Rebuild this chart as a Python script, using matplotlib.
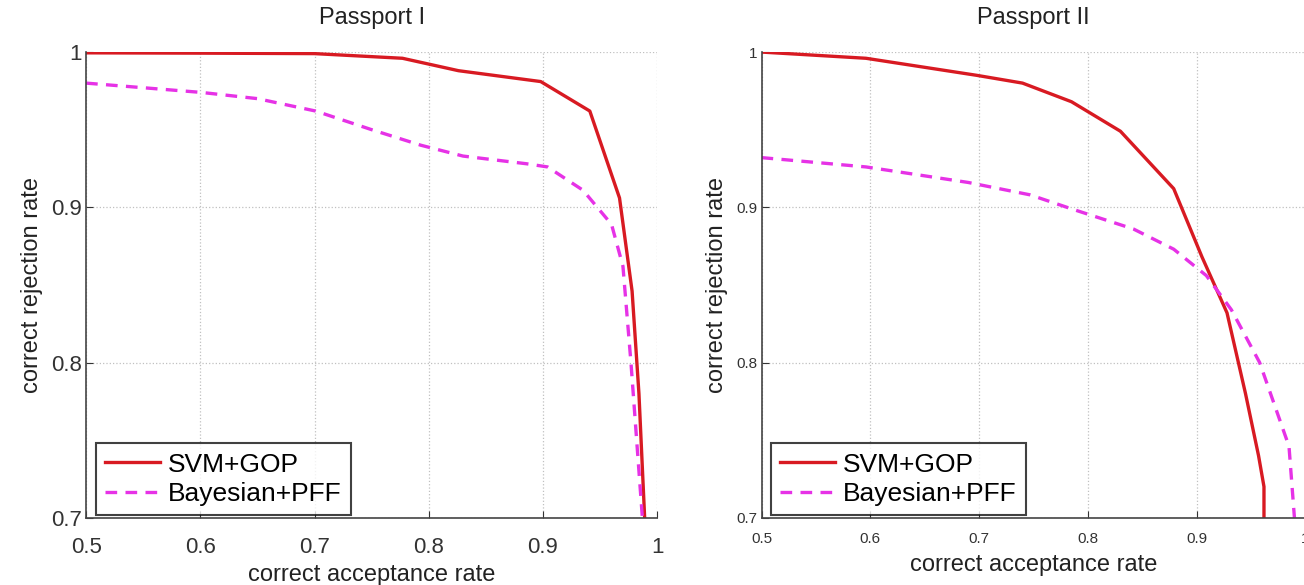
import matplotlib
matplotlib.use('Agg')
import matplotlib.pyplot as plt

plt.rcParams['font.family'] = ['Liberation Sans', 'DejaVu Sans']

# Passport I
car1_svm = [0.5, 0.6, 0.7, 0.777, 0.826, 0.898, 0.941, 0.967, 0.978, 0.984, 0.989]
crr1_svm = [0.9995, 0.9993, 0.999, 0.996, 0.988, 0.981, 0.962, 0.906, 0.846, 0.78, 0.70]
car1_bay = [0.5, 0.601, 0.65, 0.701, 0.75, 0.793, 0.830, 0.886, 0.904, 0.935, 0.96, 0.97, 0.977, 0.982, 0.987]
crr1_bay = [0.980, 0.974, 0.970, 0.962, 0.950, 0.940, 0.933, 0.928, 0.926, 0.911, 0.889, 0.862, 0.80, 0.75, 0.70]

# Passport II
car2_svm = [0.5, 0.596, 0.698, 0.740, 0.785, 0.830, 0.879, 0.905, 0.928, 0.945, 0.957, 0.962, 0.962]
crr2_svm = [1.0, 0.996, 0.985, 0.980, 0.968, 0.949, 0.912, 0.868, 0.832, 0.78, 0.74, 0.72, 0.70]
car2_bay = [0.5, 0.596, 0.69, 0.747, 0.785, 0.842, 0.879, 0.909, 0.932, 0.958, 0.985, 0.99]
crr2_bay = [0.932, 0.926, 0.916, 0.908, 0.899, 0.886, 0.873, 0.856, 0.834, 0.80, 0.746, 0.70]

titles = ['Passport I', 'Passport II']
xticks = [0.5, 0.6, 0.7, 0.8, 0.9, 1.0]
xticklabels = ['0.5', '0.6', '0.7', '0.8', '0.9', '1']
yticks = [0.7, 0.8, 0.9, 1.0]
yticklabels = ['0.7', '0.8', '0.9', '1']

red = '#d81a22'
mag = '#e632e6'

fig = plt.figure(figsize=(13.04, 5.85), dpi=100)
ax1 = fig.add_axes([0.066, 0.115, 0.438, 0.796])
ax2 = fig.add_axes([0.584, 0.115, 0.417, 0.796])

data = [(car1_svm, crr1_svm, car1_bay, crr1_bay), (car2_svm, crr2_svm, car2_bay, crr2_bay)]
tick_fs = [16, 11]
xpad = [14, 10]
xlpad = [4, 6]

for i, ax in enumerate([ax1, ax2]):
    xs, ys, xb, yb = data[i]
    ax.plot(xs, ys, color=red, lw=2.4, label='SVM+GOP')
    ax.plot(xb, yb, color=mag, lw=2.4, dashes=(3.5, 2.5), label='Bayesian+PFF')
    ax.set_xlim(0.5, 1.0)
    ax.set_ylim(0.7, 1.0)
    ax.set_xticks(xticks)
    ax.set_xticklabels(xticklabels)
    ax.set_yticks(yticks)
    ax.set_yticklabels(yticklabels)
    ax.grid(True, linestyle=':', color='#c0c0c0', lw=0.9)
    for s in ['top', 'right']:
        ax.spines[s].set_visible(False)
    for s in ['left', 'bottom']:
        ax.spines[s].set_color('#444444')
        ax.spines[s].set_linewidth(1.2)
    ax.tick_params(direction='in', length=5, labelsize=tick_fs[i], colors='#333333')
    ax.tick_params(axis='x', pad=xpad[i])
    ax.tick_params(axis='y', pad=3)
    ax.set_title(titles[i], fontsize=17, pad=20, color='#222222')
    ax.set_xlabel('correct acceptance rate', fontsize=17, color='#222222', labelpad=xlpad[i])
    ax.set_ylabel('correct rejection rate', fontsize=17, color='#222222', labelpad=6)
    leg = ax.legend(loc='lower left', bbox_to_anchor=(0.012, 0.0), fontsize=19, frameon=True,
                    fancybox=False, borderaxespad=0.1, handlelength=2.1, handletextpad=0.3,
                    borderpad=0.35, labelspacing=0.2)
    leg.get_frame().set_edgecolor('#111111')
    leg.get_frame().set_linewidth(1.5)

fig.savefig('out.png', dpi=100)
